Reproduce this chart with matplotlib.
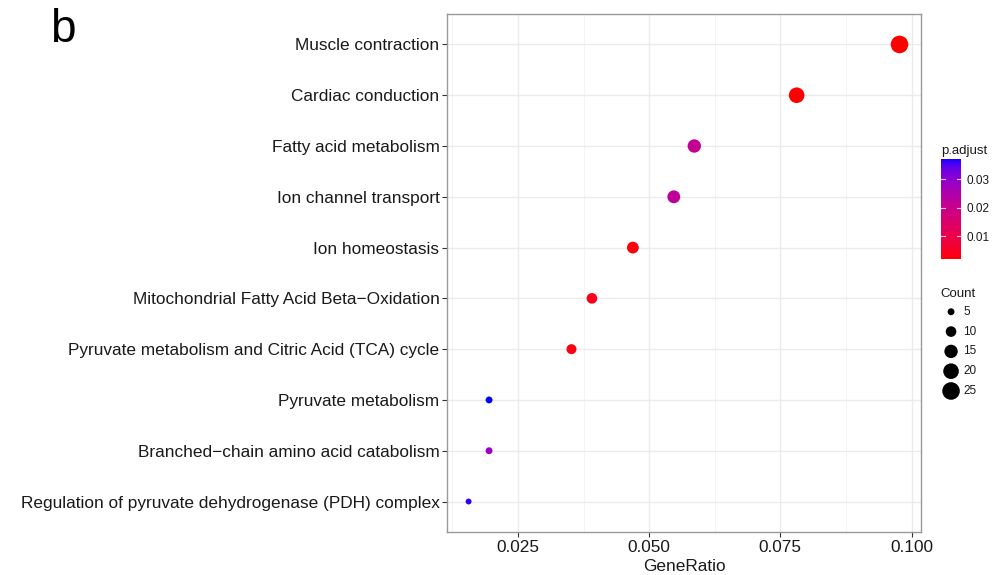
import numpy as np
import matplotlib
matplotlib.use("Agg")
import matplotlib.pyplot as plt
from matplotlib.colors import ListedColormap, Normalize

plt.rcParams['font.family'] = ['Liberation Sans', 'DejaVu Sans']

# ---- data ----
terms = [
    "Muscle contraction",
    "Cardiac conduction",
    "Fatty acid metabolism",
    "Ion channel transport",
    "Ion homeostasis",
    "Mitochondrial Fatty Acid Beta\u2212Oxidation",
    "Pyruvate metabolism and Citric Acid (TCA) cycle",
    "Pyruvate metabolism",
    "Branched\u2212chain amino acid catabolism",
    "Regulation of pyruvate dehydrogenase (PDH) complex",
]
gene_ratio = [0.0977, 0.0781, 0.0586, 0.0547, 0.0469, 0.0391, 0.0352, 0.0195, 0.0195, 0.0156]
counts = [25, 20, 15, 14, 12, 10, 9, 5, 5, 4]
p_adjust = [0.0019, 0.0021, 0.0212, 0.0222, 0.0026, 0.0040, 0.0030, 0.0372, 0.0285, 0.0366]
count_breaks = [5, 10, 15, 20, 25]
padj_breaks = [0.01, 0.02, 0.03]
x_ticks = [0.025, 0.050, 0.075, 0.100]


# ---- Lab gradient red -> blue (like ggplot's scale_color_gradient) ----
def srgb_to_lab(rgb):
    rgb = np.asarray(rgb, float)
    lin = np.where(rgb <= 0.04045, rgb / 12.92, ((rgb + 0.055) / 1.055) ** 2.4)
    M = np.array([[0.4124, 0.3576, 0.1805], [0.2126, 0.7152, 0.0722], [0.0193, 0.1192, 0.9505]])
    xyz = M @ lin
    wp = np.array([0.95047, 1.0, 1.08883])
    t = xyz / wp
    f = np.where(t > (6 / 29) ** 3, np.cbrt(t), t / (3 * (6 / 29) ** 2) + 4 / 29)
    return np.array([116 * f[1] - 16, 500 * (f[0] - f[1]), 200 * (f[1] - f[2])])


def lab_to_srgb(lab):
    L, a, b = lab
    fy = (L + 16) / 116
    fx = fy + a / 500
    fz = fy - b / 200
    def finv(f):
        return f ** 3 if f > 6 / 29 else 3 * (6 / 29) ** 2 * (f - 4 / 29)
    wp = np.array([0.95047, 1.0, 1.08883])
    xyz = np.array([finv(fx), finv(fy), finv(fz)]) * wp
    Minv = np.array([[3.2406, -1.5372, -0.4986], [-0.9689, 1.8758, 0.0415], [0.0557, -0.2040, 1.0570]])
    lin = Minv @ xyz
    lin = np.clip(lin, 0, 1)
    rgb = np.where(lin <= 0.0031308, 12.92 * lin, 1.055 * lin ** (1 / 2.4) - 0.055)
    return np.clip(rgb, 0, 1)


lab_lo = srgb_to_lab([1, 0, 0])
lab_hi = srgb_to_lab([0, 0, 1])
cols = [lab_to_srgb(lab_lo + (lab_hi - lab_lo) * t) for t in np.linspace(0, 1, 256)]
cmap = ListedColormap(cols)
norm = Normalize(vmin=min(p_adjust), vmax=max(p_adjust))

# ---- size mapping (area linear between min and max count) ----
cmin, cmax = min(counts), max(counts)
s_lo, s_hi = 18.0, 160.0


def size_of(c):
    return s_lo + (np.asarray(c, float) - cmin) / (cmax - cmin) * (s_hi - s_lo)


fig = plt.figure(figsize=(10.03, 5.75), dpi=100)
ax = fig.add_axes([0.4457, 0.0748, 0.4726, 0.9009])

n = len(terms)
ypos = np.arange(n)[::-1] + 1  # first term at top
ax.scatter(gene_ratio, ypos, s=size_of(counts), c=p_adjust, cmap=cmap, norm=norm,
           edgecolors='none', zorder=3)

xr = max(gene_ratio) - min(gene_ratio)
ax.set_xlim(min(gene_ratio) - 0.05 * xr, max(gene_ratio) + 0.05 * xr)
ax.set_ylim(0.4, n + 0.6)
ax.set_yticks(ypos)
ax.set_yticklabels(terms, fontsize=12.4, color='#1a1a1a')
ax.set_xticks(x_ticks)
ax.set_xticklabels([f"{v:.3f}" for v in x_ticks], fontsize=12.4, color='#1a1a1a')
ax.set_xticks([0.0125, 0.0375, 0.0625, 0.0875], minor=True)
ax.grid(True, which='major', color='#EBEBEB', linewidth=1.0, zorder=0)
ax.grid(True, which='minor', axis='x', color='#F2F2F2', linewidth=0.6, zorder=0)
ax.set_axisbelow(True)
ax.tick_params(axis='both', which='major', length=3.5, width=0.8, color='#333333', pad=2)
ax.tick_params(axis='x', which='minor', length=0)
for sp in ax.spines.values():
    sp.set_color('#999999')
    sp.set_linewidth(1.0)
ax.set_xlabel("GeneRatio", fontsize=12.4, color='#1a1a1a', labelpad=3)

# panel label
fig.text(0.0495, 0.927, "b", fontsize=33, color='black', ha='left', va='baseline')

# ---- colorbar legend ----
cax = fig.add_axes([0.9382, 0.5496, 0.0199, 0.1739])
cb = fig.colorbar(plt.cm.ScalarMappable(norm=norm, cmap=cmap), cax=cax)
cb.set_ticks(padj_breaks)
cb.set_ticklabels([f"{v:.2f}" for v in padj_breaks])
cb.outline.set_visible(False)
cax.tick_params(length=0, labelsize=8.5, pad=4, labelcolor='#1a1a1a')
cax.tick_params(which='minor', length=0)
for v in padj_breaks:
    cax.plot([0, 0.18], [v, v], color='white', lw=0.8, alpha=0.8, transform=cax.get_yaxis_transform())
    cax.plot([0.82, 1.0], [v, v], color='white', lw=0.8, alpha=0.8, transform=cax.get_yaxis_transform())
fig.text(0.9382, 0.733, "p.adjust", fontsize=9.5, color='#1a1a1a', ha='left', va='baseline')

# ---- size legend ----
fig.text(0.9372, 0.4843, "Count", fontsize=9.5, color='#1a1a1a', ha='left', va='baseline')
lax = fig.add_axes([0.9382, 0.3028, 0.05, 0.1722])
lax.set_xlim(0, 1)
lax.set_ylim(len(count_breaks) - 0.5, -0.5)
lax.axis('off')
lax.scatter([0.2] * len(count_breaks), np.arange(len(count_breaks)), s=size_of(count_breaks),
            color='black', edgecolors='none')
for i, c in enumerate(count_breaks):
    lax.text(0.44, i, str(c), fontsize=8.5, color='#1a1a1a', va='center', ha='left')

fig.savefig("out.png", dpi=100)
